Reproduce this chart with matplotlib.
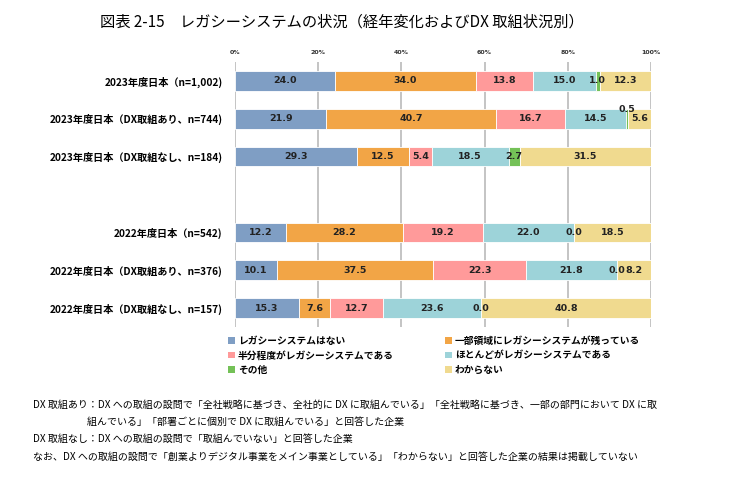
import numpy as np
import matplotlib
matplotlib.use("Agg")
import matplotlib.pyplot as plt
from matplotlib.patches import Patch

plt.rcParams['font.family'] = ['Noto Sans CJK JP', 'DejaVu Sans']

categories = ["2023年度日本（n=1,002)",
              "2023年度日本（DX取組あり、n=744)",
              "2023年度日本（DX取組なし、n=184)",
              "",
              "2022年度日本（n=542)",
              "2022年度日本（DX取組あり、n=376)",
              "2022年度日本（DX取組なし、n=157)"]
series = ["レガシーシステムはない", "一部領域にレガシーシステムが残っている",
          "半分程度がレガシーシステムである", "ほとんどがレガシーシステムである",
          "その他", "わからない"]
colors = ["#7f9ec4", "#f2a546", "#ff9a9a", "#9dd3d9", "#74c157", "#f0da8f"]

# values per series, one entry per category (blank row = None)
no_legacy   = [24.0, 21.9, 29.3, None, 12.2, 10.1, 15.3]
partial     = [34.0, 40.7, 12.5, None, 28.2, 37.5, 7.6]
half        = [13.8, 16.7, 5.4, None, 19.2, 22.3, 12.7]
mostly      = [15.0, 14.5, 18.5, None, 22.0, 21.8, 23.6]
other       = [1.0, 0.5, 2.7, None, 0.0, 0.0, 0.0]
unknown     = [12.3, 5.6, 31.5, None, 18.5, 8.2, 40.8]
data = [no_legacy, partial, half, mostly, other, unknown]

ticks = [0, 20, 40, 60, 80, 100]

fig = plt.figure(figsize=(7.46, 4.86), dpi=100)
ax = fig.add_axes([235/746, 1-327/486, 416/746, 265/486])

nrow = len(categories)
y = np.arange(nrow)
bar_h = 0.52

for i in range(nrow):
    if data[0][i] is None:
        continue
    vals = [s[i] for s in data]
    total = sum(vals)
    left = 0.0
    for j, v in enumerate(vals):
        w = v / total * 100
        ax.barh(y[i], w, left=left, height=bar_h, color=colors[j],
                edgecolor="white", linewidth=0.6, zorder=3)
        cx = left + w / 2
        # tiny non-zero share: label sits on the top edge of the bar
        ty = y[i] - bar_h / 2 + 0.02 if 0 < v < 1 else y[i]
        ax.text(cx, ty, f"{v:.1f}", ha="center", va="center",
                fontsize=6.8, fontweight="bold", color="#222222",
                family="DejaVu Sans", zorder=4)
        left += w

ax.set_xlim(0, 100)
ax.set_ylim(nrow - 0.5, -0.5)
ax.set_xticks(ticks)
ax.set_xticklabels([f"{t}%" for t in ticks], fontsize=4.5, fontweight="bold",
                   family="DejaVu Sans", color="#333333")
ax.xaxis.tick_top()
ax.tick_params(axis="x", length=0, pad=5)
ax.set_yticks(y)
ax.set_yticklabels(categories, fontsize=7.3, fontweight="bold")
ax.tick_params(axis="y", length=0, pad=9)
ax.grid(axis="x", color="#bfbfbf", linewidth=1.3, zorder=0)
for sp in ax.spines.values():
    sp.set_visible(False)

handles = [Patch(facecolor=colors[j], edgecolor="none") for j in range(6)]
order = [0, 2, 4, 1, 3, 5]
fig.legend([handles[k] for k in order], [series[k] for k in order],
           loc="upper left", bbox_to_anchor=(228/746, 1-336/486), ncol=2,
           frameon=False, prop={"size": 7, "weight": "bold"},
           handlelength=0.7, handleheight=0.7, handletextpad=0.3,
           columnspacing=5.3, labelspacing=0.45, borderaxespad=0, borderpad=0)

fig.text(100/746, 1-22/486,
         "図表 2-15　レガシーシステムの状況（経年変化およびDX 取組状況別）",
         fontsize=11, va="center", ha="left")

notes = [(33, 405, "DX 取組あり：DX への取組の設問で「全社戦略に基づき、全社的に DX に取組んでいる」「全社戦略に基づき、一部の部門において DX に取"),
         (87, 422, "組んでいる」「部署ごとに個別で DX に取組んでいる」と回答した企業"),
         (33, 439, "DX 取組なし：DX への取組の設問で「取組んでいない」と回答した企業"),
         (33, 457, "なお、DX への取組の設問で「創業よりデジタル事業をメイン事業としている」「わからない」と回答した企業の結果は掲載していない")]
for nx, ny, txt in notes:
    fig.text(nx/746, 1-ny/486, txt, fontsize=7.2, va="center", ha="left")

fig.savefig("out.png", dpi=100)
